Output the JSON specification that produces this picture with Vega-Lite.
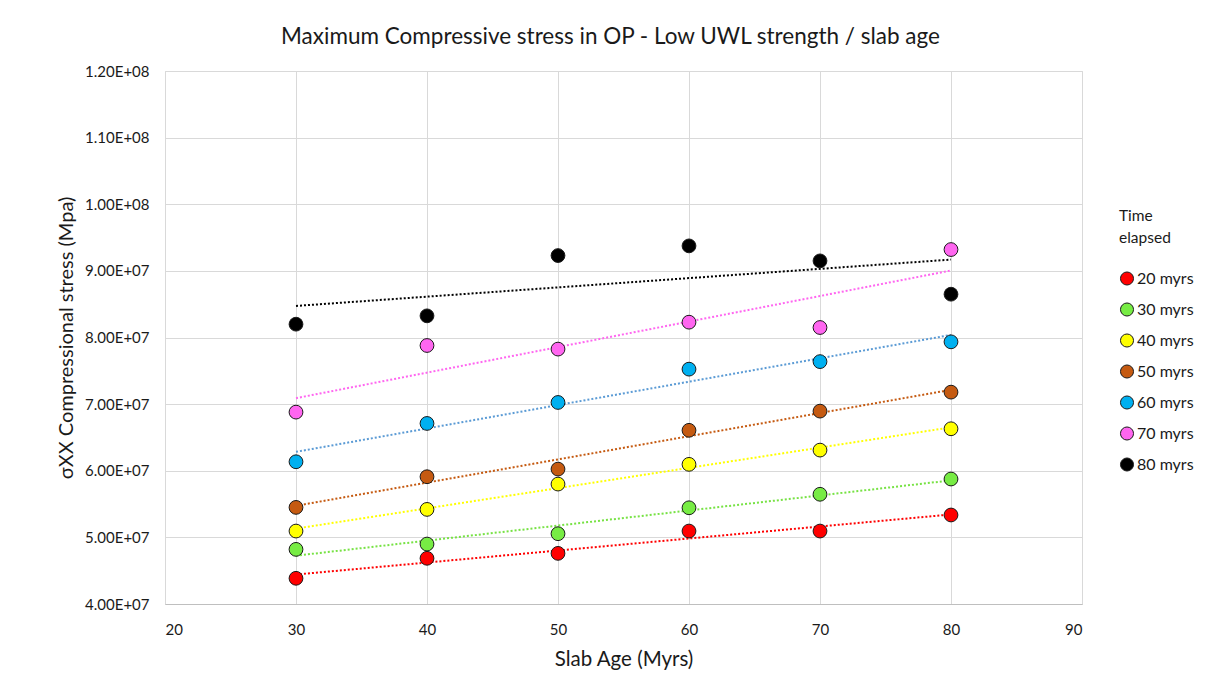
{
  "$schema": "https://vega.github.io/schema/vega-lite/v6.json",
  "width": 917,
  "height": 533,
  "autosize": "none",
  "padding": {"left": 165, "top": 71, "right": 123, "bottom": 84},
  "background": "white",
  "config": {
    "font": "Lato",
    "view": {"stroke": "#d9d9d9", "strokeWidth": 1}
  },
  "title": {
    "text": "Maximum Compressive stress in OP - Low UWL strength / slab age",
    "fontSize": 22.5,
    "fontWeight": "normal",
    "color": "#1a1a1a",
    "anchor": "middle",
    "dx": -13,
    "offset": 16
  },
  "data": {
    "values": [
      {"age": 30, "elapsed": "20 myrs", "stress": 43860000},
      {"age": 40, "elapsed": "20 myrs", "stress": 46860000},
      {"age": 50, "elapsed": "20 myrs", "stress": 47600000},
      {"age": 60, "elapsed": "20 myrs", "stress": 50950000},
      {"age": 70, "elapsed": "20 myrs", "stress": 50950000},
      {"age": 80, "elapsed": "20 myrs", "stress": 53360000},
      {"age": 30, "elapsed": "30 myrs", "stress": 48200000},
      {"age": 40, "elapsed": "30 myrs", "stress": 49000000},
      {"age": 50, "elapsed": "30 myrs", "stress": 50550000},
      {"age": 60, "elapsed": "30 myrs", "stress": 54440000},
      {"age": 70, "elapsed": "30 myrs", "stress": 56470000},
      {"age": 80, "elapsed": "30 myrs", "stress": 58760000},
      {"age": 30, "elapsed": "40 myrs", "stress": 50950000},
      {"age": 40, "elapsed": "40 myrs", "stress": 54200000},
      {"age": 50, "elapsed": "40 myrs", "stress": 58000000},
      {"age": 60, "elapsed": "40 myrs", "stress": 60960000},
      {"age": 70, "elapsed": "40 myrs", "stress": 63100000},
      {"age": 80, "elapsed": "40 myrs", "stress": 66300000},
      {"age": 30, "elapsed": "50 myrs", "stress": 54500000},
      {"age": 40, "elapsed": "50 myrs", "stress": 59100000},
      {"age": 50, "elapsed": "50 myrs", "stress": 60250000},
      {"age": 60, "elapsed": "50 myrs", "stress": 66070000},
      {"age": 70, "elapsed": "50 myrs", "stress": 68950000},
      {"age": 80, "elapsed": "50 myrs", "stress": 71800000},
      {"age": 30, "elapsed": "60 myrs", "stress": 61350000},
      {"age": 40, "elapsed": "60 myrs", "stress": 67100000},
      {"age": 50, "elapsed": "60 myrs", "stress": 70250000},
      {"age": 60, "elapsed": "60 myrs", "stress": 75250000},
      {"age": 70, "elapsed": "60 myrs", "stress": 76380000},
      {"age": 80, "elapsed": "60 myrs", "stress": 79350000},
      {"age": 30, "elapsed": "70 myrs", "stress": 68800000},
      {"age": 40, "elapsed": "70 myrs", "stress": 78800000},
      {"age": 50, "elapsed": "70 myrs", "stress": 78260000},
      {"age": 60, "elapsed": "70 myrs", "stress": 82300000},
      {"age": 70, "elapsed": "70 myrs", "stress": 81500000},
      {"age": 80, "elapsed": "70 myrs", "stress": 93200000},
      {"age": 30, "elapsed": "80 myrs", "stress": 82000000},
      {"age": 40, "elapsed": "80 myrs", "stress": 83250000},
      {"age": 50, "elapsed": "80 myrs", "stress": 92300000},
      {"age": 60, "elapsed": "80 myrs", "stress": 93750000},
      {"age": 70, "elapsed": "80 myrs", "stress": 91500000},
      {"age": 80, "elapsed": "80 myrs", "stress": 86500000}
    ]
  },
  "encoding": {
    "x": {
      "field": "age",
      "type": "quantitative",
      "scale": {"domain": [20, 90], "nice": false, "zero": false},
      "axis": {
        "title": "Slab Age (Myrs)",
        "values": [20, 30, 40, 50, 60, 70, 80, 90],
        "grid": true,
        "gridColor": "#d9d9d9",
        "domain": true,
        "domainColor": "#bfbfbf",
        "ticks": false,
        "labelPadding": 18,
        "labelFontSize": 15,
        "labelColor": "#1a1a1a",
        "titleFontSize": 20.5,
        "titleFontWeight": "normal",
        "titleColor": "#1a1a1a",
        "titlePadding": 12
      }
    },
    "y": {
      "field": "stress",
      "type": "quantitative",
      "scale": {"domain": [40000000, 120000000], "nice": false, "zero": false},
      "axis": {
        "title": "σXX Compressional  stress (Mpa)",
        "values": [40000000, 50000000, 60000000, 70000000, 80000000, 90000000, 100000000, 110000000, 120000000],
        "labelExpr": "datum.value >= 100000000 ? format(datum.value / 100000000, '.2f') + 'E+08' : format(datum.value / 10000000, '.2f') + 'E+07'",
        "grid": true,
        "gridColor": "#d9d9d9",
        "domain": false,
        "ticks": false,
        "labelPadding": 16,
        "labelFontSize": 15,
        "labelColor": "#1a1a1a",
        "titleFontSize": 20,
        "titleFontWeight": "normal",
        "titleColor": "#1a1a1a",
        "titlePadding": 8
      }
    }
  },
  "layer": [
    {
      "transform": [
        {"regression": "stress", "on": "age", "groupby": ["elapsed"]}
      ],
      "mark": {"type": "line", "strokeWidth": 2, "strokeDash": [2, 2]},
      "encoding": {
        "stroke": {
          "field": "elapsed",
          "type": "nominal",
          "scale": {
            "domain": ["20 myrs", "30 myrs", "40 myrs", "50 myrs", "60 myrs", "70 myrs", "80 myrs"],
            "range": ["#ff0000", "#77e244", "#ffff00", "#c55a11", "#5b9bd5", "#ff66f0", "#000000"]
          },
          "legend": null
        }
      }
    },
    {
      "mark": {"type": "point", "shape": "circle", "filled": true, "size": 190, "stroke": "#1a1a1a", "strokeWidth": 1, "opacity": 1},
      "encoding": {
        "fill": {
          "field": "elapsed",
          "type": "nominal",
          "scale": {
            "domain": ["20 myrs", "30 myrs", "40 myrs", "50 myrs", "60 myrs", "70 myrs", "80 myrs"],
            "range": ["#ff0000", "#77ec44", "#ffff00", "#c55a11", "#00b0f0", "#ff66f0", "#000000"]
          },
          "legend": {
            "title": ["Time", "elapsed"],
            "orient": "none",
            "legendX": 954,
            "legendY": 138,
            "titleFontSize": 15.5,
            "titleFontWeight": "normal",
            "titleColor": "#1a1a1a",
            "titleLineHeight": 22,
            "titlePadding": 24,
            "labelFontSize": 16,
            "labelColor": "#1a1a1a",
            "labelOffset": 2,
            "symbolType": "circle",
            "symbolSize": 170,
            "symbolStrokeColor": "#1a1a1a",
            "symbolStrokeWidth": 1,
            "symbolOpacity": 1,
            "rowPadding": 13
          }
        }
      }
    }
  ],
  "resolve": {"scale": {"stroke": "independent", "fill": "independent"}}
}
